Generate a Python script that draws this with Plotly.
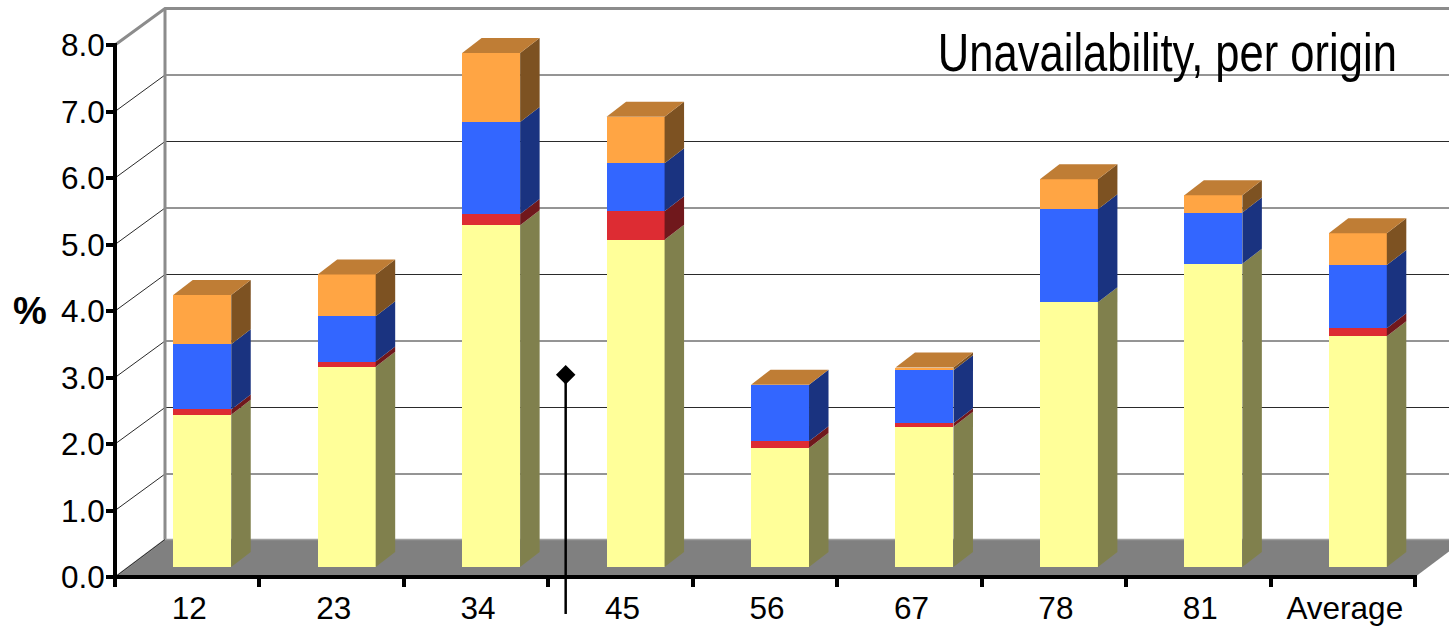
import plotly.graph_objects as go

# Unavailability by origin, in percent, stacked per category
categories = ["12", "23", "34", "45", "56", "67", "78", "81", "Average"]
yellow = [2.29, 3.01, 5.14, 4.92, 1.79, 2.11, 3.98, 4.56, 3.47]
red = [0.08, 0.08, 0.17, 0.43, 0.10, 0.05, 0.00, 0.00, 0.12]
blue = [0.98, 0.68, 1.38, 0.72, 0.85, 0.80, 1.40, 0.77, 0.95]
orange = [0.74, 0.63, 1.04, 0.70, 0.00, 0.04, 0.45, 0.26, 0.48]

series = [
    ("Yellow", yellow, "#FFFF99", "#80804D"),
    ("Red", red, "#DD2C33", "#70181C"),
    ("Blue", blue, "#3366FF", "#1A3380"),
    ("Orange", orange, "#FFA544", "#7D5222"),
]
cap_color = "#BF7D35"

marker_x = 3.12
marker_top = 3.04
marker_bottom = -0.556

# Pixel geometry of the value frame and of the pseudo-3D projection.
# The subplot fills the page so the projected walls are not cut off;
# both axes are then pinned to the frame's lower-left corner.
FIG_W, FIG_H = 1449, 627
LEFT, RIGHT, TOP, BOTTOM = 115, 1415, 45, 577
XU = (RIGHT - LEFT) / 9
YU = (BOTTOM - TOP) / 8
WALL_DX, WALL_DY = 50 / XU, 36.5 / YU
FLOOR_DY = 37.5 / YU
BAR_DX, BAR_DY = 19.5 / XU, 15 / YU
BAR_BASE = 10 / YU
BAR_CENTER = 0.604
BAR_WIDTH = 58 / XU
X_END = 9 + WALL_DX

fig = go.Figure()


def poly(xs, ys, color, zorder):
    fig.add_trace(go.Scatter(
        x=xs, y=ys, mode="lines", fill="toself", fillcolor=color,
        line=dict(width=0, color=color), hoverinfo="skip", showlegend=False,
        zorder=zorder))


def line(xs, ys, color, width, zorder):
    fig.add_trace(go.Scatter(
        x=xs, y=ys, mode="lines", line=dict(width=width, color=color),
        hoverinfo="skip", showlegend=False, zorder=zorder))


# Floor, gridlines on the back wall and their returns on the side wall
poly([0, WALL_DX, X_END, 9], [0, FLOOR_DY, FLOOR_DY, 0], "#808080", -2)
for k in range(1, 8):
    line([0, WALL_DX, X_END], [k, k + WALL_DY, k + WALL_DY], "#2A2A2A", 1, -2)
line([0, WALL_DX, X_END], [8, 8 + WALL_DY, 8 + WALL_DY], "#8C8C8C", 3, -2)
line([WALL_DX, WALL_DX], [FLOOR_DY, 8 + WALL_DY], "#8C8C8C", 3, -2)
line([0, WALL_DX, X_END], [0, FLOOR_DY, FLOOR_DY], "#A0A0A0", 1.5, -2)
line([0, WALL_DX], [0, FLOOR_DY], "#2A2A2A", 1, -2)

centers = [i + BAR_CENTER for i in range(len(categories))]

# Front faces of the stacked columns
running = [BAR_BASE] * len(categories)
levels = []
for name, values, front, side in series:
    fig.add_trace(go.Bar(
        x=centers, y=values, base=list(running), width=BAR_WIDTH, name=name,
        marker=dict(color=front, line=dict(width=0)), showlegend=False,
        hoverinfo="skip", zorder=-1))
    levels.append((list(running), values, side))
    running = [b + v for b, v in zip(running, values)]

# Side faces and top caps, projected from the same stacked values
for i, c in enumerate(centers):
    x0, x1 = c - BAR_WIDTH / 2, c + BAR_WIDTH / 2
    for bases, values, side in levels:
        lo, hi = bases[i], bases[i] + values[i]
        if values[i] > 0:
            poly([x1, x1 + BAR_DX, x1 + BAR_DX, x1],
                 [lo, lo + BAR_DY, hi + BAR_DY, hi], side, -1)
    t = running[i]
    poly([x0, x1, x1 + BAR_DX, x0 + BAR_DX],
         [t, t, t + BAR_DY, t + BAR_DY], cap_color, -1)

# Vertical marker with its diamond head
line([marker_x, marker_x], [marker_bottom, marker_top], "black", 2.5, 1)
fig.add_trace(go.Scatter(
    x=[marker_x], y=[marker_top], mode="markers",
    marker=dict(symbol="diamond", size=15, color="black"),
    hoverinfo="skip", showlegend=False, zorder=1))

# Heavy axis lines, centred on the zero positions
line([-2 / XU, 9 + 2 / XU], [0, 0], "black", 4, 2)
line([0, 0], [-2 / YU, 8 + 2 / YU], "black", 4, 2)

font_family = "Liberation Sans"
fig.update_layout(
    width=FIG_W, height=FIG_H,
    margin=dict(l=0, r=0, t=0, b=0, pad=0, autoexpand=False),
    paper_bgcolor="white", plot_bgcolor="white",
    barmode="overlay", bargap=0, showlegend=False,
    font=dict(family=font_family, color="black", size=31),
    xaxis=dict(
        range=[-LEFT / XU, (FIG_W - LEFT) / XU], domain=[0, 1],
        anchor="free", position=(FIG_H - BOTTOM) / FIG_H,
        showgrid=False, zeroline=False, showline=False,
        tickmode="array", tickvals=[i + 0.5 for i in range(9)], ticktext=categories,
        ticks="", ticklabelstandoff=9, ticklabelshift=2,
        minor=dict(tickmode="array", tickvals=list(range(10)), ticks="outside",
                   ticklen=9, tickwidth=3.5, tickcolor="black", showgrid=False),
        tickfont=dict(size=31.5, family=font_family, color="black"),
    ),
    yaxis=dict(
        range=[(BOTTOM - FIG_H) / YU, BOTTOM / YU], domain=[0, 1],
        anchor="free", position=LEFT / FIG_W,
        showgrid=False, zeroline=False, showline=False,
        tickmode="array", tickvals=list(range(9)),
        ticktext=[f"{v:.1f}" for v in range(9)],
        ticks="outside", ticklen=9, tickwidth=3.5, tickcolor="black",
        ticklabelstandoff=-5,
        tickfont=dict(size=31.5, family=font_family, color="black"),
    ),
    annotations=[
        dict(text="Unavailability, per origin", xref="paper", yref="paper",
             x=1167.5 / FIG_W, y=(FIG_H - 52) / FIG_H,
             xanchor="center", yanchor="middle", showarrow=False,
             font=dict(size=53, family=font_family, color="black")),
        dict(text="<b>%</b>", xref="paper", yref="paper",
             x=30 / FIG_W, y=(FIG_H - 311) / FIG_H,
             xanchor="center", yanchor="middle", showarrow=False,
             font=dict(size=38, family=font_family, color="black")),
    ],
)

# The heading is set in a condensed cut; squeeze the regular face to that width
narrow_heading = """
document.querySelectorAll('.annotation-text').forEach(function (t) {
  if (t.textContent.indexOf('Unavailability') === 0) {
    t.setAttribute('textLength', '459');
    t.setAttribute('lengthAdjust', 'spacingAndGlyphs');
  }
});
"""

fig.write_html("out.html", config=dict(displayModeBar=False), post_script=narrow_heading)
